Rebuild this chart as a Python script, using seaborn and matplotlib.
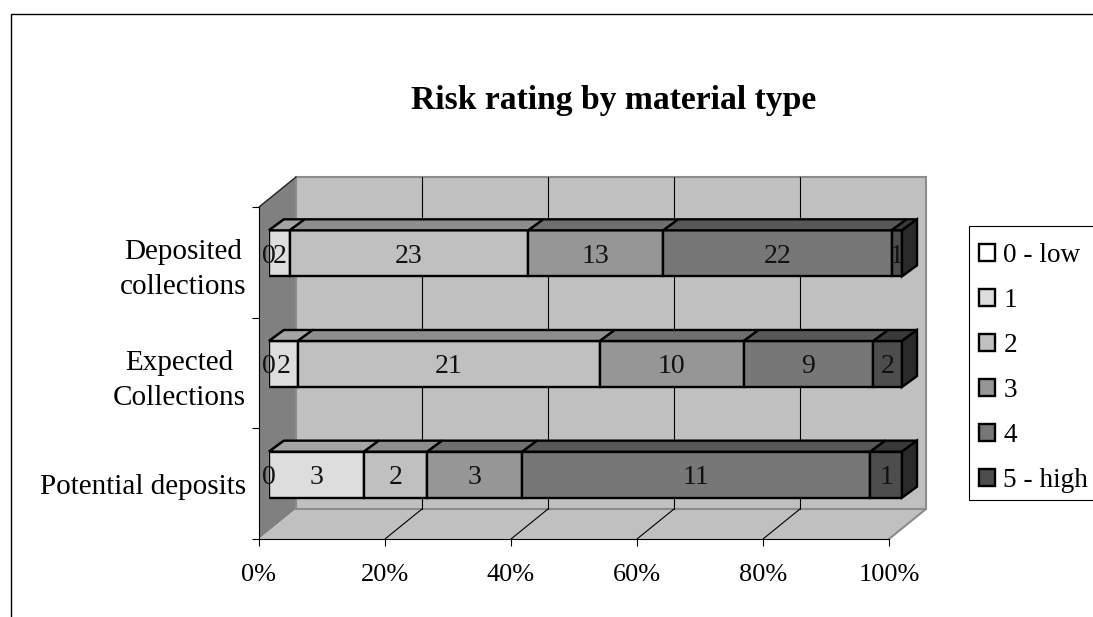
import numpy as np
import seaborn as sns
import matplotlib
matplotlib.use('Agg')
import matplotlib.pyplot as plt
from matplotlib.patches import Patch, Polygon, Rectangle

W, H = 1093, 617

categories = ['Deposited\ncollections', 'Expected\nCollections', 'Potential deposits']
ratings = ['0 - low', '1', '2', '3', '4', '5 - high']
counts = np.array([
    [0, 2, 23, 13, 22, 1],
    [0, 2, 21, 10, 9, 2],
    [0, 3, 2, 3, 11, 1],
])
greys = ['#FFFFFF', '#DDDDDD', '#C0C0C0', '#969696', '#777777', '#4D4D4D']
x_ticks = [0, 20, 40, 60, 80, 100]

sns.set_theme(style='white')
plt.rcParams['font.family'] = ['Liberation Serif', 'DejaVu Serif']
plt.rcParams['font.size'] = 18


def box(left, top, right, bottom):
    # pixel box (from top left of the image) to figure fractions
    return [left / W, 1 - bottom / H, (right - left) / W, (bottom - top) / H]


def shade(color, factor):
    return tuple(c * factor for c in matplotlib.colors.to_rgb(color))


fig = plt.figure(figsize=(W / 100, H / 100), dpi=100, facecolor='white')

# plot frame position and the 3D depth of walls and bars, in pixels
left, right, top, bottom = 259, 889, 207, 539
wall_dx, wall_dy = 37, 30
bar_dx, bar_dy = 15, 11

# background: outer chart frame, legend box and the walls
bg = fig.add_axes([0, 0, 1, 1], zorder=0)
bg.set_xlim(0, W)
bg.set_ylim(H, 0)
bg.axis('off')
bg.plot([11, 11, W], [H, 14, 14], color='black', lw=1)
bg.add_patch(Rectangle((969, 226), W - 969 + 5, 274, facecolor='white', edgecolor='black', lw=0.8))

wall_edge = '#8C8C8C'
bg.add_patch(Polygon([(left, top), (left + wall_dx, top - wall_dy), (left + wall_dx, bottom - wall_dy), (left, bottom)],
                     facecolor='#808080', edgecolor='none'))
bg.add_patch(Polygon([(left, bottom), (left + wall_dx, bottom - wall_dy), (right + wall_dx, bottom - wall_dy), (right, bottom)],
                     facecolor='#C0C0C0', edgecolor='none'))
bg.add_patch(Polygon([(left + wall_dx, top - wall_dy), (right + wall_dx, top - wall_dy),
                      (right + wall_dx, bottom - wall_dy), (left + wall_dx, bottom - wall_dy)],
                     facecolor='#C0C0C0', edgecolor=wall_edge, lw=1.5))
bg.plot([left, left + wall_dx], [top, top - wall_dy], color='#222222', lw=1)
bg.plot([right, right + wall_dx], [bottom, bottom - wall_dy], color=wall_edge, lw=1.5)
for tick in x_ticks[1:-1]:
    tx = left + (right - left) * tick / 100
    bg.plot([tx + wall_dx, tx + wall_dx], [top - wall_dy, bottom - wall_dy], color='black', lw=0.8)
    bg.plot([tx, tx + wall_dx], [bottom, bottom - wall_dy], color='black', lw=0.8)

# axes with the ticks and labels
ax = fig.add_axes(box(left, top, right, bottom), zorder=1)
ax.patch.set_alpha(0)
ax.set_xlim(0, 100)
ax.set_ylim(2.5, -0.5)
ax.set_xticks(x_ticks)
ax.set_xticklabels([f'{t}%' for t in x_ticks])
ax.set_yticks([-0.5, 0.5, 1.5, 2.5])
ax.set_yticklabels([])
ax.set_yticks(range(len(categories)), categories, minor=True, ha='right', multialignment='center', linespacing=1.45)
ax.tick_params(axis='both', which='major', length=5, width=0.8, color='black', bottom=True, left=True, pad=13)
ax.tick_params(axis='y', which='minor', length=0, pad=9.4, labelsize=21, labelcolor='black')
ax.tick_params(axis='x', labelsize=19, labelcolor='black')
for name in ['top', 'right']:
    ax.spines[name].set_visible(False)
for name in ['left', 'bottom']:
    ax.spines[name].set_color('black')
    ax.spines[name].set_linewidth(0.8)

# bars sit in front of the back wall, shifted off the axis
bar_ax = fig.add_axes(box(269, 198, 902, 530), zorder=2)
bar_ax.patch.set_alpha(0)
shares = counts / counts.sum(axis=1, keepdims=True) * 100
starts = np.hstack([np.zeros((3, 1)), np.cumsum(shares, axis=1)[:, :-1]])
for j, rating in enumerate(ratings):
    sns.barplot(x=shares[:, j], y=categories, left=starts[:, j], orient='h', color=greys[j], saturation=1,
                width=0.416, edgecolor='black', linewidth=1.7, errorbar=None, ax=bar_ax)
bar_ax.set_xlim(0, 100)
bar_ax.set_ylim(2.5, -0.5)
bar_ax.axis('off')

# top and right faces built from the drawn bars
dx = bar_dx / 633 * 100
dy = bar_dy / (332 / 3)
for j, container in enumerate(bar_ax.containers):
    for i, bar in enumerate(container):
        x0, x1 = bar.get_x(), bar.get_x() + bar.get_width()
        y0 = min(bar.get_y(), bar.get_y() + bar.get_height())
        y1 = max(bar.get_y(), bar.get_y() + bar.get_height())
        bar_ax.add_patch(Polygon([(x0, y0), (x0 + dx, y0 - dy), (x1 + dx, y0 - dy), (x1, y0)], clip_on=False,
                                 facecolor=shade(greys[j], 0.74), edgecolor='black', lw=1.7, zorder=1.5))
        if j == len(ratings) - 1:
            bar_ax.add_patch(Polygon([(x1, y0), (x1 + dx, y0 - dy), (x1 + dx, y1 - dy), (x1, y1)], clip_on=False,
                                     facecolor=shade(greys[j], 0.55), edgecolor='black', lw=1.7, zorder=1.5))
    texts = bar_ax.bar_label(container, labels=[str(v) for v in counts[:, j]], label_type='center', fontsize=20,
                             color='#111111', zorder=5)
    for t in texts:
        t.xyann = (0, -2)

fig.text(614 / W, 1 - 100 / H, 'Risk rating by material type', ha='center', va='center',
         fontsize=24.2, fontweight='bold', color='black')

handles = [Patch(facecolor=g, edgecolor='black', lw=1.7) for g in greys]
leg = fig.legend(handles, ratings, loc='upper left', bbox_to_anchor=(968 / W, 1 - 232 / H),
                 bbox_transform=fig.transFigure, borderaxespad=0, fontsize=19.6, frameon=False,
                 handlelength=0.6, handleheight=0.6, handletextpad=0.3,
                 labelspacing=0.735, borderpad=0.4, labelcolor='black')

fig.savefig('out.png', dpi=100)
